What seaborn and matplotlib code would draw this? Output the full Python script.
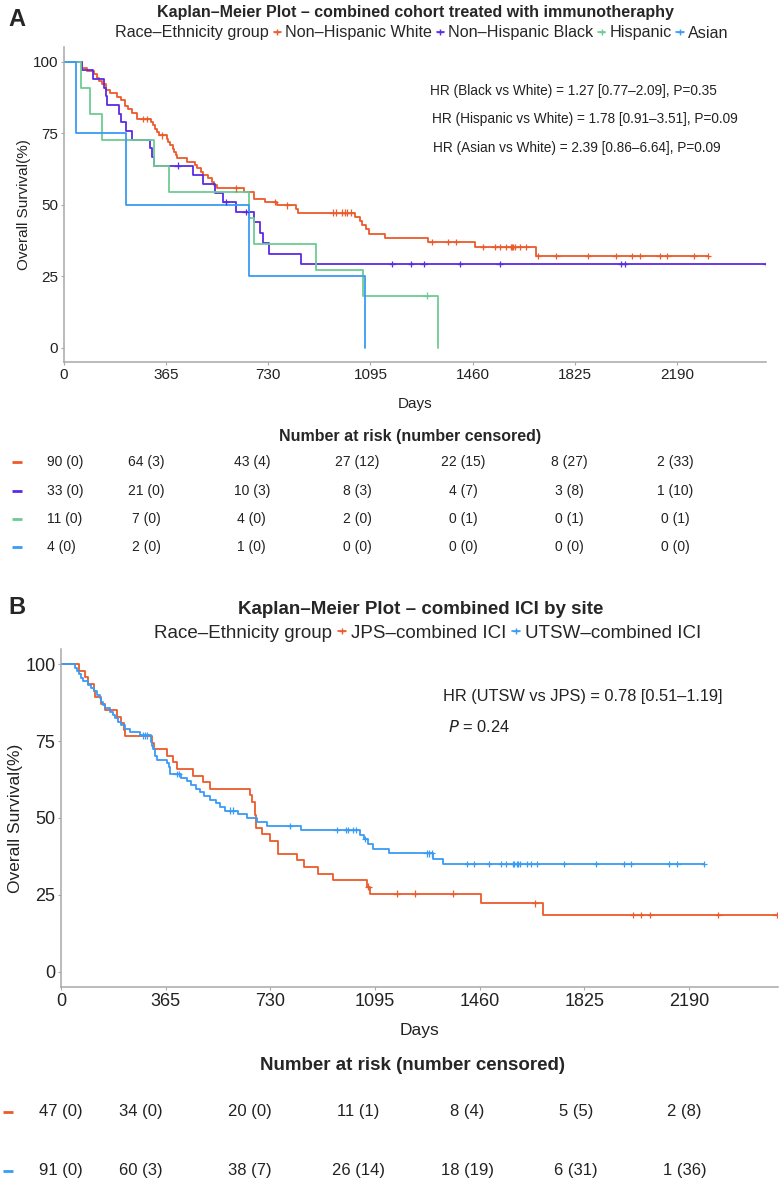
import numpy as np
import pandas as pd
import matplotlib
matplotlib.use("Agg")
import matplotlib.pyplot as plt
import matplotlib.transforms as mtransforms
from matplotlib.lines import Line2D
import seaborn as sns

sns.set_theme(style="white")
plt.rcParams['font.family'] = ['Liberation Sans', 'DejaVu Sans']
ESTREITA = ['Liberation Sans Narrow', 'Liberation Sans', 'DejaVu Sans']

W, H = 780, 1181

# %% [1] DADOS - painel A (dias)
grupos_a = ['Non–Hispanic White', 'Non–Hispanic Black', 'Hispanic', 'Asian']
cores_a = ['#EC5B2B', '#5A2BE6', '#6DCB92', '#3A9BF5']

obitos_white = [65, 65, 85, 110, 118, 127, 136, 152, 152, 166, 192, 204, 219, 219, 231, 245, 261, 261,
                311, 320, 326, 332, 340,
                368, 374, 380, 389, 395, 403, 406, 442, 469, 475, 489, 499, 516, 528, 538, 548,
                644, 680, 680, 720,
                760, 828, 837, 1039, 1057, 1066, 1078, 1090,
                1146, 1301, 1467, 1685]
censura_white = [285, 299, 350, 617, 754, 799, 960, 972, 995, 1003, 1010, 1025,
                 1313, 1372, 1400, 1497, 1538, 1556, 1578, 1598, 1600, 1604, 1610, 1627, 1651,
                 1693, 1758, 1871, 1970, 2029, 2058, 2127, 2154, 2248, 2299]

obitos_black = [65, 104, 144, 150, 156, 198, 204, 222, 245, 308, 317, 323,
                463, 498, 540, 570, 614, 680, 700, 710, 733, 849]
censura_black = [407, 578, 650, 1172, 1239, 1285, 1414, 1556, 1990, 2002, 2506]

obitos_hisp = [63, 95, 138, 324, 376, 662, 680, 899, 1069, 1335]
censura_hisp = [1295]

obitos_asian = [45, 223, 662, 1074]
censura_asian = []

hr_a = ['HR (Black vs White) = 1.27 [0.77–2.09], P=0.35',
        'HR (Hispanic vs White) = 1.78 [0.91–3.51], P=0.09',
        'HR (Asian vs White) = 2.39 [0.86–6.64], P=0.09']

risco_a = [['90 (0)', '64 (3)', '43 (4)', '27 (12)', '22 (15)', '8 (27)', '2 (33)'],
           ['33 (0)', '21 (0)', '10 (3)', '8 (3)', '4 (7)', '3 (8)', '1 (10)'],
           ['11 (0)', '7 (0)', '4 (0)', '2 (0)', '0 (1)', '0 (1)', '0 (1)'],
           ['4 (0)', '2 (0)', '1 (0)', '0 (0)', '0 (0)', '0 (0)', '0 (0)']]

# %% [2] DADOS - painel B
grupos_b = ['JPS–combined ICI', 'UTSW–combined ICI']
cores_b = ['#EC5B2B', '#3A9BF5']

obitos_jps = [64, 84, 95, 115, 119, 140, 153, 196, 208, 220, 223, 316, 325,
              368, 389, 403, 461, 496, 520, 659, 665, 676, 677, 679, 680, 700, 729,
              758, 758, 824, 847, 897, 949, 1066, 1077,
              1463, 1679]
censura_jps = [1072, 1170, 1234, 1366, 1653, 1996, 2021, 2054, 2292, 2495]

obitos_utsw = [49, 55, 63, 70, 78, 95, 105, 115, 125, 135, 140, 148, 153, 170, 180, 190, 200, 210,
               223, 240, 275, 313, 313, 318, 322, 328, 328, 335,
               370, 375, 380, 380, 420, 440, 455, 470, 485, 499, 520, 540, 554, 572,
               618, 647, 682, 719,
               836, 1043, 1057, 1070, 1089,
               1145, 1298, 1333]
censura_utsw = [285, 292, 300, 403, 410, 590, 600, 798, 961, 994, 1002, 1017, 1030, 1060,
                1275, 1284, 1293, 1415, 1440, 1493, 1534, 1552, 1575, 1580, 1589, 1594, 1600,
                1624, 1640, 1659, 1754, 1865, 1963, 1986, 2121, 2149, 2242]

hr_b = 'HR (UTSW vs JPS) = 0.78 [0.51–1.19]'
p_b = '$\\it{P}$ = 0.24'

risco_b = [['47 (0)', '34 (0)', '20 (0)', '11 (1)', '8 (4)', '5 (5)', '2 (8)'],
           ['91 (0)', '60 (3)', '38 (7)', '26 (14)', '18 (19)', '6 (31)', '1 (36)']]

dias_ticks = [0, 365, 730, 1095, 1460, 1825, 2190]
sobrev_ticks = [0, 25, 50, 75, 100]


# %% [3] KAPLAN-MEIER
def km(grupo, obitos, censuras):
    n = len(obitos) + len(censuras)
    s = 100.0
    linhas = [(0, s)]
    marcas = []
    for t in sorted(set(obitos) | set(censuras)):
        d = obitos.count(t)
        c = censuras.count(t)
        if d:
            s = s * (n - d) / n
            linhas.append((t, s))
        if c:
            marcas.append((t, s))
        n -= d + c
    ultimo = max(obitos + censuras)
    linhas.append((ultimo, s))
    df_l = pd.DataFrame(linhas, columns=['dias', 'sobrev'])
    df_l['grupo'] = grupo
    df_m = pd.DataFrame(marcas, columns=['dias', 'sobrev'])
    df_m['grupo'] = grupo
    return df_l, df_m


def monta(grupos, listas):
    ls, ms = [], []
    for g, (ob, ce) in zip(grupos, listas):
        l, m = km(g, ob, ce)
        ls.append(l)
        ms.append(m)
    return pd.concat(ls, ignore_index=True), pd.concat(ms, ignore_index=True)


df_a, cens_a = monta(grupos_a, [(obitos_white, censura_white), (obitos_black, censura_black),
                                (obitos_hisp, censura_hisp), (obitos_asian, censura_asian)])
df_b, cens_b = monta(grupos_b, [(obitos_jps, censura_jps), (obitos_utsw, censura_utsw)])


# %% [4] FIGURA
fig = plt.figure(figsize=(W / 100, H / 100), dpi=100)


def eixo(l, t, r, b):
    return fig.add_axes([l / W, 1 - b / H, (r - l) / W, (b - t) / H])


def ftxt(x, y, s, **kw):
    fig.text(x / W, 1 - y / H, s, **kw)


def painel_km(ax, df, cens, grupos, cores, tam, tam_lab, xmax):
    pal = dict(zip(grupos, cores))
    sns.lineplot(data=df, x='dias', y='sobrev', hue='grupo', palette=pal, estimator=None,
                 sort=False, drawstyle='steps-post', linewidth=1.3, legend=False, ax=ax)
    sns.scatterplot(data=cens, x='dias', y='sobrev', hue='grupo', palette=pal, marker='+',
                    s=22, linewidth=0.9, legend=False, ax=ax, zorder=3)
    ax.set_xlim(0, xmax)
    ax.set_ylim(-5, 105)
    ax.set_xticks(dias_ticks)
    ax.set_yticks(sobrev_ticks)
    for lado in ['top', 'right']:
        ax.spines[lado].set_visible(False)
    for lado in ['left', 'bottom']:
        ax.spines[lado].set_color('#a8a8a8')
        ax.spines[lado].set_linewidth(1.1)
    ax.tick_params(left=True, bottom=True, length=2.5, width=0.8, color='#a8a8a8',
                   pad=1.5, labelsize=tam, labelcolor='#222222')
    ax.set_xlabel('Days', fontsize=tam_lab, family=ESTREITA, color='#222222')
    ax.set_ylabel('Overall Survival(%)', fontsize=tam_lab, color='#222222')
    ax.yaxis.label.set_va('center')
    ax.xaxis.label.set_va('center')


def legenda(xc, yc, grupos, cores, tam):
    alca = [Line2D([], [], alpha=0)]
    alca += [Line2D([], [], color=c, marker='+', markersize=4, lw=1.2) for c in cores]
    fig.legend(alca, ['Race–Ethnicity group'] + grupos, loc='center',
               bbox_to_anchor=(xc / W, 1 - yc / H), ncol=len(alca), frameon=False,
               handlelength=0.45, handletextpad=0.25, columnspacing=0.3,
               prop={'family': ESTREITA, 'size': tam})


def tabela_risco(l, t, r, b, risco, cores, tam, xmax):
    ax = eixo(l, t, r, b)
    ax.set_xlim(0, xmax)
    ax.set_ylim(len(risco), 0)
    ax.axis('off')
    tr = mtransforms.blended_transform_factory(ax.transAxes, ax.transData)
    for i, (linha, cor) in enumerate(zip(risco, cores)):
        ax.plot([-0.032], [i + 0.5], marker='_', markersize=7, mew=2, color=cor,
                transform=tr, clip_on=False)
        for j, (dia, txt) in enumerate(zip(dias_ticks, linha)):
            if j == 0:
                ax.annotate(txt, (dia, i + 0.5), xytext=(7, 0), textcoords='offset pixels',
                            ha='left', va='center', fontsize=tam, family=ESTREITA, color='#222222')
            else:
                ax.text(dia, i + 0.5, txt, ha='center', va='center', fontsize=tam,
                        family=ESTREITA, color='#222222')


# ---- painel A ----
ftxt(8, 19, 'A', fontsize=17, fontweight='bold', va='center', ha='left')
ftxt(415, 12, 'Kaplan–Meier Plot – combined cohort treated with immunotheraphy',
     fontsize=11.5, fontweight='bold', family=ESTREITA, ha='center', va='center')
legenda(416, 33, grupos_a, cores_a, 11.6)

ax_a = eixo(63.5, 47.4, 766, 362)
painel_km(ax_a, df_a, cens_a, grupos_a, cores_a, 11, 11, 2506)
ax_a.yaxis.set_label_coords(-0.056, 0.5)
ax_a.xaxis.set_label_coords(0.5, -0.133)
for i, s in enumerate(hr_a):
    ftxt(430 + i * 1.5, 91 + i * 28.5, s, fontsize=9.8, ha='left', va='center', color='#222222')

ftxt(410, 437, 'Number at risk (number censored)', fontsize=11.5, fontweight='bold',
     family=ESTREITA, ha='center', va='center')
tabela_risco(40.2, 448, 766.6, 561.4, risco_a, cores_a, 10, 2506)

# ---- painel B ----
ftxt(8, 608, 'B', fontsize=17, fontweight='bold', va='center', ha='left')
ftxt(421, 610, 'Kaplan–Meier Plot – combined ICI by site',
     fontsize=13.5, fontweight='bold', family=ESTREITA, ha='center', va='center')
legenda(421, 633, grupos_b, cores_b, 13.5)

ax_b = eixo(61, 649, 778, 987)
painel_km(ax_b, df_b, cens_b, grupos_b, cores_b, 13, 12.5, 2500)
ax_b.yaxis.set_label_coords(-0.0628, 0.5)
ax_b.xaxis.set_label_coords(0.5, -0.128)
ftxt(443, 696, hr_b, fontsize=11.8, ha='left', va='center', color='#222222')
ftxt(448, 727, p_b, fontsize=11.8, ha='left', va='center', color='#222222')

ftxt(412, 1066, 'Number at risk (number censored)', fontsize=13.5, fontweight='bold',
     family=ESTREITA, ha='center', va='center')
tabela_risco(32.3, 1082.5, 777, 1200.5, risco_b, cores_b, 12, 2500)

fig.savefig('out.png', dpi=100)
